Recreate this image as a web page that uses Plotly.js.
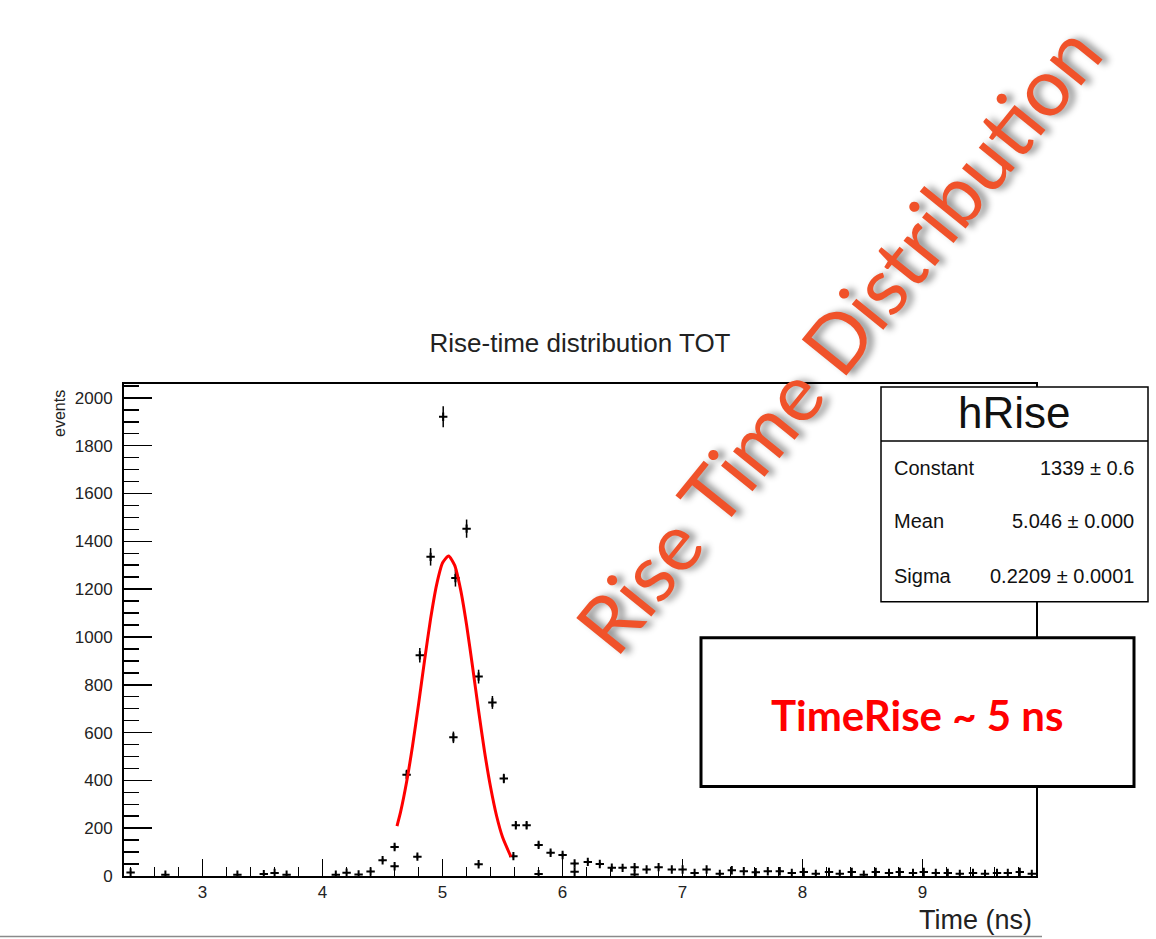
<!DOCTYPE html>
<html>
<head>
<meta charset="utf-8">
<script src="https://cdn.plot.ly/plotly-3.0.1.min.js"></script>
<style>
html,body{margin:0;padding:0;background:#fff;}
#chart{width:1156px;height:939px;}
</style>
</head>
<body>
<div id="chart"></div>
<script>
// ---- data ----
const binTimes = [2.40, 2.69, 3.29, 3.51, 3.60, 3.70, 4.11, 4.20, 4.30, 4.40, 4.50, 4.60, 4.60, 4.70, 4.79, 4.81, 4.90, 5.005, 5.09, 5.107, 5.20, 5.30, 5.30, 5.415, 5.51, 5.59, 5.61, 5.70, 5.80, 5.80, 5.90, 6.00, 6.10, 6.10, 6.21, 6.31, 6.41, 6.50, 6.60, 6.60, 6.70, 6.80, 6.91, 7.00, 7.10, 7.20, 7.31, 7.41, 7.51, 7.61, 7.71, 7.81, 7.91, 8.01, 8.11, 8.22, 8.31, 8.41, 8.51, 8.61, 8.72, 8.81, 8.92, 9.01, 9.11, 9.21, 9.31, 9.42, 9.52, 9.62, 9.71, 9.81, 9.91];
const binCounts = [15, 5, 5, 8, 13, 5, 5, 14, 6, 19, 66, 41, 121, 424, 81, 923, 1335, 1921, 580, 1246, 1453, 834, 49, 726, 408, 83, 212, 212, 130, 8, 97, 88, 52, 18, 59, 50, 35, 34, 37, 6, 27, 37, 27, 27, 13, 27, 9, 24, 20, 16, 20, 20, 13, 17, 9, 17, 9, 17, 5, 17, 13, 17, 13, 17, 13, 13, 9, 13, 9, 13, 13, 17, 9];

const fitTimes = [4.62, 4.65, 4.70, 4.75, 4.80, 4.85, 4.90, 4.95, 5.00, 5.05, 5.10, 5.15, 5.20, 5.25, 5.30, 5.35, 5.40, 5.45, 5.50, 5.57];
const fitValues = [209, 268, 393, 546, 720, 903, 1076, 1218, 1310, 1339, 1300, 1198, 1050, 874, 691, 519, 371, 251, 162, 80];

const chartTitle = "Rise-time distribution TOT";
const xTitle = "Time (ns)";
const yTitle = "events";
const statsName = "hRise";
const statsLabels = ["Constant", "Mean", "Sigma"];
const statsValues = ["1339 \u00b1 0.6", "5.046 \u00b1 0.000", "0.2209 \u00b1 0.0001"];
const noteText = "TimeRise ~ 5 ns";
const bigText = "Rise Time Distribution";

// ---- geometry helpers (pixel -> paper) ----
const L = 124, R = 1036, T = 384, B = 876.5;
const PW = R - L, PH = B - T;
const px = v => (v - L) / PW;
const py = v => (B - v) / PH;

const traces = [
  {
    type: "scatter", mode: "markers",
    x: binTimes, y: binCounts,
    marker: {symbol: "cross-thin", size: 6, color: "black", line: {color: "black", width: 2}},
    error_y: {type: "sqrt", visible: true, color: "black", thickness: 1.5, width: 0},
    hoverinfo: "x+y", showlegend: false
  },
  {
    type: "scatter", mode: "lines",
    x: fitTimes, y: fitValues,
    line: {color: "#ff0000", width: 3, shape: "spline", smoothing: 0.6},
    showlegend: false
  }
];

const axisFont = {family: "Liberation Sans, Arial, sans-serif", size: 17, color: "#222"};

const shapes = [
  // stats box
  {type: "rect", xref: "paper", yref: "paper", x0: px(881), x1: px(1148), y0: py(602), y1: py(387),
   fillcolor: "white", line: {color: "black", width: 1.5}, layer: "above"},
  {type: "line", xref: "paper", yref: "paper", x0: px(881), x1: px(1148), y0: py(441), y1: py(441),
   line: {color: "black", width: 1.5}, layer: "above"},
  // note box
  {type: "rect", xref: "paper", yref: "paper", x0: px(701), x1: px(1134), y0: py(787), y1: py(638),
   fillcolor: "white", line: {color: "black", width: 3}, layer: "above"},
  // slide rule line at the bottom
  {type: "line", xref: "paper", yref: "paper", x0: px(0), x1: px(1042), y0: py(937), y1: py(937),
   line: {color: "#8a8a8a", width: 1.5}, layer: "above"}
];

const annotations = [
  {text: yTitle, xref: "paper", yref: "paper", x: px(60), y: py(414), textangle: -90,
   showarrow: false, xanchor: "center", yanchor: "middle",
   font: {family: "Liberation Sans, Arial, sans-serif", size: 16, color: "#222"}},
  {text: xTitle, xref: "paper", yref: "paper", x: px(1034), y: py(921),
   showarrow: false, xanchor: "right", yanchor: "middle",
   font: {family: "Liberation Sans, Arial, sans-serif", size: 27, color: "#222"}},
  {text: statsName, xref: "paper", yref: "paper", x: px(1014.5), y: py(413),
   showarrow: false, xanchor: "center", yanchor: "middle",
   font: {family: "Liberation Sans, Arial, sans-serif", size: 44, color: "#111"}},
  {text: noteText, xref: "paper", yref: "paper", x: px(917), y: py(715),
   showarrow: false, xanchor: "center", yanchor: "middle",
   font: {family: "Lato, sans-serif", size: 42, color: "#ff0000", weight: 700}},
  {text: bigText, xref: "paper", yref: "paper", x: px(837), y: py(338), textangle: -51,
   showarrow: false, xanchor: "center", yanchor: "middle",
   font: {family: "Lato, sans-serif", size: 80, color: "#f0522a",
          shadow: "4px 5px 7px rgba(0,0,0,0.45)"}}
];
const rowY = [468, 521, 576];
statsLabels.forEach((lab, i) => {
  annotations.push({text: lab, xref: "paper", yref: "paper", x: px(892), y: py(rowY[i]),
    showarrow: false, xanchor: "left", yanchor: "middle",
    font: {family: "Liberation Sans, Arial, sans-serif", size: 20, color: "#111"}});
  annotations.push({text: statsValues[i], xref: "paper", yref: "paper", x: px(1136), y: py(rowY[i]),
    showarrow: false, xanchor: "right", yanchor: "middle",
    font: {family: "Liberation Sans, Arial, sans-serif", size: 20, color: "#111"}});
});

const layout = {
  width: 1156, height: 939,
  margin: {l: L, r: 1156 - R, t: T, b: 939 - B, pad: 0},
  paper_bgcolor: "white", plot_bgcolor: "white",
  showlegend: false,
  title: {text: chartTitle, x: 580 / 1156, xref: "container", xanchor: "center",
          y: 1 - 343 / 939, yref: "container", yanchor: "middle",
          font: {family: "Liberation Sans, Arial, sans-serif", size: 26, color: "#222"}},
  xaxis: {
    range: [2.345, 9.945], dtick: 1, tick0: 0,
    ticks: "inside", ticklen: 17, tickwidth: 1.5, tickcolor: "black",
    showline: true, linecolor: "black", linewidth: 2, mirror: true,
    showgrid: false, zeroline: false,
    tickfont: axisFont, ticklabelstandoff: 0,
    minor: {dtick: 0.2, ticks: "inside", ticklen: 9, tickwidth: 1.5, tickcolor: "black", showgrid: false}
  },
  yaxis: {
    range: [0, 2058], dtick: 200, tick0: 0,
    ticks: "inside", ticklen: 28, tickwidth: 1.5, tickcolor: "black",
    showline: true, linecolor: "black", linewidth: 2, mirror: true,
    showgrid: false, zeroline: false,
    tickfont: axisFont, ticklabelstandoff: 6,
    minor: {dtick: 50, ticks: "inside", ticklen: 15, tickwidth: 1.5, tickcolor: "black", showgrid: false}
  },
  shapes: shapes,
  annotations: annotations
};

Plotly.newPlot("chart", traces, layout, {displayModeBar: false, staticPlot: true});
</script>
</body>
</html>
